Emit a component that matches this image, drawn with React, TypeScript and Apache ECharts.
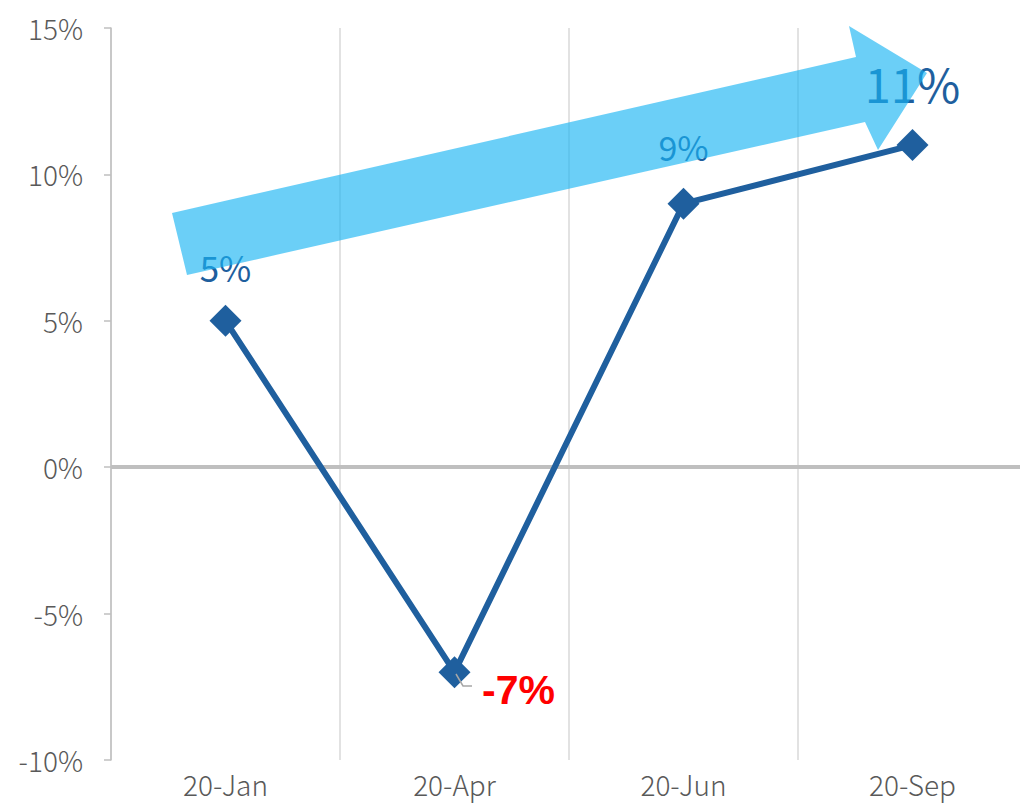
import React, { useEffect, useRef } from "react";
import * as echarts from "echarts";

const categories = ["20-Jan", "20-Apr", "20-Jun", "20-Sep"];
const values = [5, -7, 9, 11];
const labelTexts = ["5%", "-7%", "9%", "11%"];
const yTicks = { min: -10, max: 15, interval: 5 };

export default function App() {
  const ref = useRef<HTMLDivElement>(null);
  useEffect(() => {
    if (!ref.current) return;
    const chart = echarts.init(ref.current, null, { renderer: "svg" });
    const blue = "#1F5F9E";
    const font = "'Noto Sans CJK JP', 'Noto Sans', sans-serif";
    const labelStyles = [
      { offset: [0, -54], fontSize: 35, color: blue, fontFamily: font },
      { offset: [64, 18], fontSize: 41, color: "#FF0000", fontWeight: "bold", fontFamily: "'Liberation Sans', Arial, sans-serif" },
      { offset: [0, -57], fontSize: 34, color: blue, fontFamily: font },
      { offset: [0, -63], fontSize: 47, color: blue, fontFamily: font },
    ];
    chart.setOption({
      animation: false,
      grid: { left: 111, top: 28, width: 916, height: 732 },
      xAxis: {
        type: "category",
        data: categories,
        boundaryGap: true,
        axisLine: { show: false },
        axisTick: { show: false },
        axisLabel: { color: "#595959", fontSize: 28, fontWeight: 300, margin: 10, fontFamily: font },
        splitLine: { show: true, lineStyle: { color: "#D9D9D9", width: 1.5 } },
      },
      yAxis: {
        type: "value",
        min: yTicks.min,
        max: yTicks.max,
        interval: yTicks.interval,
        axisLine: { show: true, lineStyle: { color: "#BFBFBF", width: 1.5 } },
        axisTick: { show: true, length: 7, lineStyle: { color: "#BFBFBF", width: 1.5 } },
        axisLabel: { color: "#595959", fontSize: 28, fontWeight: 300, margin: 28, fontFamily: font, formatter: (v: number) => v + "%" },
        splitLine: { show: false },
      },
      series: [
        {
          type: "line",
          data: values.map((v, i) => ({
            value: v,
            label: {
              show: true,
              position: "inside",
              formatter: labelTexts[i],
              ...labelStyles[i],
            },
          })),
          symbol: "diamond",
          symbolSize: 32,
          lineStyle: { color: blue, width: 6 },
          itemStyle: { color: blue },
          markLine: {
            silent: true,
            symbol: "none",
            label: { show: false },
            lineStyle: { color: "#BFBFBF", width: 4, type: "solid" },
            data: [{ yAxis: 0 }],
            z: 1,
          },
        },
      ],
      graphic: [
        {
          type: "polygon",
          z: 100,
          shape: {
            points: [
              [172, 213],
              [856, 57],
              [849, 26],
              [927, 73],
              [878, 150],
              [865, 122],
              [187, 275],
            ],
          },
          style: { fill: "rgba(24,180,242,0.64)" },
        },
        {
          type: "polyline",
          z: 100,
          shape: { points: [[456, 674], [463, 686], [472, 686]] },
          style: { stroke: "#A6A6A6", lineWidth: 1.5, fill: null },
        },
      ],
    });
    return () => chart.dispose();
  }, []);
  return (
    <div style={{ position: "fixed", left: 0, top: 0, width: 1020, height: 803, overflow: "hidden", background: "#fff" }}>
      <div ref={ref} style={{ position: "absolute", left: 0, top: 0, width: 1040, height: 803 }} />
    </div>
  );
}
